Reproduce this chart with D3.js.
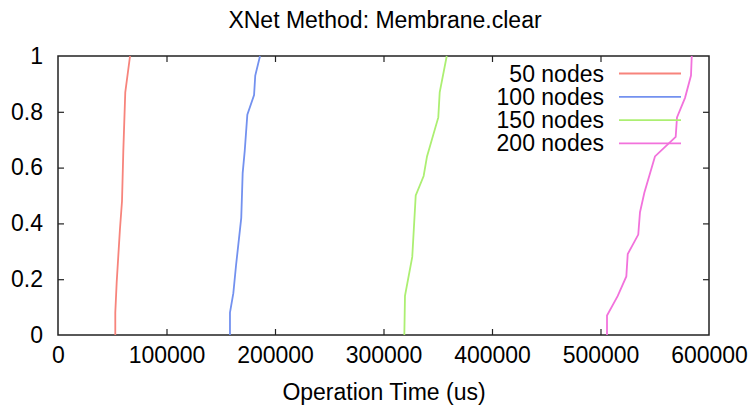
<!DOCTYPE html>
<html>
<head>
<meta charset="utf-8">
<script src="https://cdn.jsdelivr.net/npm/d3@7"></script>
<style>
  body { margin:0; background:#fff; }
  svg text { font-family:"Liberation Sans", Arial, sans-serif; fill:#000; }
</style>
</head>
<body>
<svg id="chart" width="752" height="405"></svg>
<script>
// CDF points [operation time (us), fraction]
var nodes50 = [[52800,0],[52800,0.08],[54100,0.19],[57100,0.38],[59000,0.48],[60200,0.66],[62000,0.87],[66400,1]]
  , nodes100 = [[158500,0],[158500,0.08],[161600,0.15],[164100,0.25],[168900,0.42],[170200,0.58],[172100,0.66],[174500,0.79],[180700,0.86],[181800,0.93],[186200,1]]
  , nodes150 = [[319200,0],[319800,0.14],[326500,0.28],[329700,0.5],[337000,0.57],[340100,0.64],[350500,0.78],[351800,0.87],[358300,1]]
  , nodes200 = [[506000,0],[506000,0.07],[515900,0.14],[523800,0.21],[525100,0.29],[534800,0.36],[536400,0.44],[540400,0.51],[550200,0.64],[569300,0.71],[570500,0.78],[577900,0.85],[583400,0.93],[584100,1]]

var seriesNames = ['50 nodes', '100 nodes', '150 nodes', '200 nodes']
  , seriesColors = ['#f7847c', '#7391ef', '#acef72', '#f272dc']
  , xTicks = [0, 100000, 200000, 300000, 400000, 500000, 600000]
  , yTicks = [0, 0.2, 0.4, 0.6, 0.8, 1]

var series = [nodes50, nodes100, nodes150, nodes200]
var m = { left:58, right:709, top:56, bottom:335 }
var fontSize = '23px'

var svg = d3.select('#chart')
var x = d3.scaleLinear().domain([0, 600000]).range([m.left, m.right])
var y = d3.scaleLinear().domain([0, 1]).range([m.bottom, m.top])

// title
svg.append('text')
  .attr('x', 385).attr('y', 28)
  .attr('text-anchor', 'middle')
  .style('font-size', fontSize)
  .text('XNet Method: Membrane.clear')

// axes with inward ticks, mirrored on top / right
var tickLen = 6
var xb = svg.append('g').attr('transform', 'translate(0,' + m.bottom + ')')
  .call(d3.axisBottom(x).tickValues(xTicks).tickSizeInner(-tickLen).tickSizeOuter(0).tickPadding(12).tickFormat(d3.format('d')))
var xt = svg.append('g').attr('transform', 'translate(0,' + m.top + ')')
  .call(d3.axisTop(x).tickValues(xTicks).tickSizeInner(-tickLen).tickSizeOuter(0).tickFormat(''))
var yl = svg.append('g').attr('transform', 'translate(' + m.left + ',0)')
  .call(d3.axisLeft(y).tickValues(yTicks).tickSizeInner(-tickLen).tickSizeOuter(0).tickPadding(15).tickFormat(function(d) { return d3.format('')(+d.toFixed(1)) }))
var yr = svg.append('g').attr('transform', 'translate(' + m.right + ',0)')
  .call(d3.axisRight(y).tickValues(yTicks).tickSizeInner(-tickLen).tickSizeOuter(0).tickFormat(''))

;[xb, xt, yl, yr].forEach(function(g) {
  g.select('.domain').remove()
  g.selectAll('.tick line').attr('stroke', '#222').attr('stroke-width', 1.2)
  g.selectAll('.tick text').style('font-size', fontSize).attr('fill', '#000')
})
// drop end ticks that sit on the frame
xb.selectAll('.tick').filter(function(d) { return d == 0 || d == 600000 }).select('line').remove()
xt.selectAll('.tick').filter(function(d) { return d == 0 || d == 600000 }).select('line').remove()
yl.selectAll('.tick').filter(function(d) { return d == 0 || d == 1 }).select('line').remove()
yr.selectAll('.tick').filter(function(d) { return d == 0 || d == 1 }).select('line').remove()

// frame
svg.append('rect')
  .attr('x', m.left).attr('y', m.top)
  .attr('width', m.right - m.left).attr('height', m.bottom - m.top)
  .attr('fill', 'none').attr('stroke', '#222').attr('stroke-width', 1.5)

// x axis label
svg.append('text')
  .attr('x', 384).attr('y', 400)
  .attr('text-anchor', 'middle')
  .style('font-size', fontSize)
  .text('Operation Time (us)')

// lines
var line = d3.line().x(function(d) { return x(d[0]) }).y(function(d) { return y(d[1]) })
svg.append('g').selectAll('path')
    .data(series)
  .enter().append('path')
    .attr('d', line)
    .attr('fill', 'none')
    .attr('stroke', function(d, i) { return seriesColors[i] })
    .attr('stroke-width', 1.8)

// legend
var leg = svg.append('g').selectAll('g')
    .data(seriesNames)
  .enter().append('g')
    .attr('transform', function(d, i) { return 'translate(0,' + (73.5 + i * 23.3) + ')' })

leg.append('text')
  .attr('x', 604).attr('y', 0).attr('dy', '0.35em')
  .attr('text-anchor', 'end')
  .style('font-size', fontSize)
  .text(function(d) { return d })

leg.append('line')
  .attr('x1', 619).attr('x2', 681)
  .attr('stroke', function(d, i) { return seriesColors[i] })
  .attr('stroke-width', 1.8)
</script>
</body>
</html>
